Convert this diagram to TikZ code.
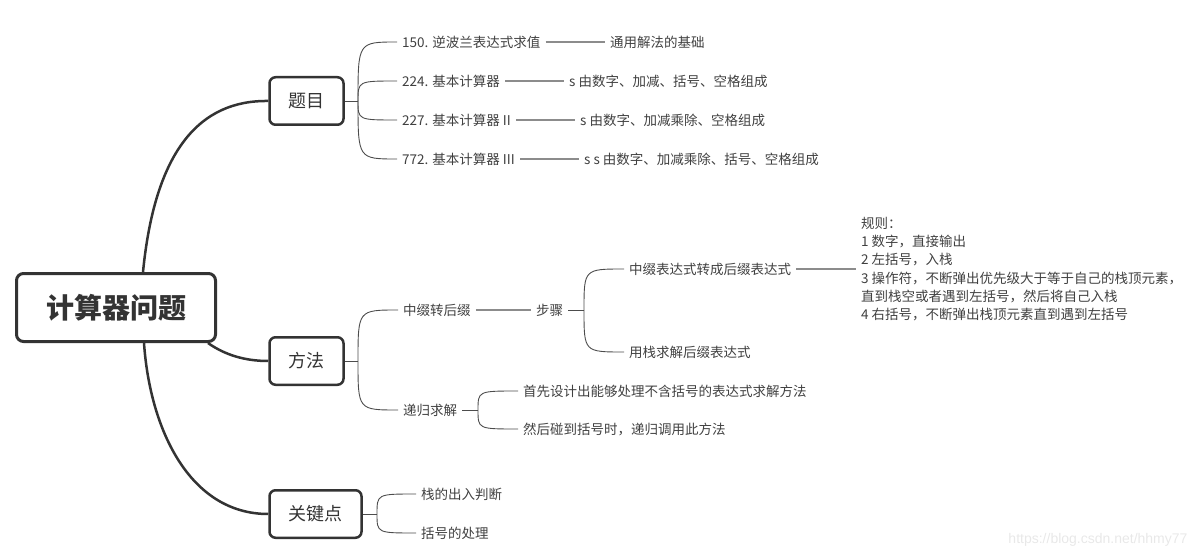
\documentclass[tikz,border=0pt]{standalone}
\usepackage{fontspec}
\setmainfont{Noto Sans CJK SC}
\newfontfamily\markfont{Liberation Sans}
\usetikzlibrary{positioning}
\definecolor{ink}{HTML}{333333}
\definecolor{leafink}{HTML}{404040}
\tikzset{
  rootbox/.style={draw=ink,line width=3pt,rounded corners=7pt,minimum width=199pt,minimum height=68pt,text=ink,font=\fontsize{28}{30}\selectfont\bfseries},
  topicbox/.style={draw=ink,line width=2.5pt,rounded corners=6pt,minimum height=47.5pt,inner xsep=19pt,text=ink,font=\fontsize{18}{20}\selectfont},
  leaf/.style={anchor=west,inner xsep=5pt,inner ysep=2pt,text=leafink,font=\fontsize{13.5}{18.2}\selectfont},
  trunk/.style={draw=ink,line width=2.5pt},
  twig/.style={draw=black!70,line width=0.9pt},
  bar/.style={draw=black!45,line width=1.5pt},
}
\begin{document}
\begin{tikzpicture}[x=1pt,y=-1pt]
\useasboundingbox (0,0) rectangle (1200,559);
\node[rootbox] (root) at (116,307.5) {计算器问题};
\node[topicbox] (ti) at (306.5,101) {题目};
\node[topicbox] (me) at (306.5,361) {方法};
\node[topicbox] (ke) at (315.5,514) {关键点};
\draw[trunk] ([xshift=27pt]root.north) .. controls (155,150) and (200,100) .. (ti.west);
\draw[trunk] ([xshift=-9pt]root.south east) .. controls (225,355) and (245,361) .. (me.west);
\draw[trunk] ([xshift=28pt]root.south) .. controls (150,430) and (190,514) .. (ke.west);

% 题目
\coordinate (bt) at (358,101);
\node[leaf] (t150) at (397,42) {150. 逆波兰表达式求值};
\node[leaf] (d150) at (605,42) {通用解法的基础};
\node[leaf] (t224) at (397,81) {224. 基本计算器};
\node[leaf] (d224) at (564,81) {s 由数字、加减、括号、空格组成};
\node[leaf] (t227) at (397,120) {227. 基本计算器 II};
\node[leaf] (d227) at (575,120) {s 由数字、加减乘除、空格组成};
\node[leaf] (t772) at (397,159) {772. 基本计算器 III};
\node[leaf] (d772) at (579,159) {s s 由数字、加减乘除、括号、空格组成};
\draw[twig] (ti.east) -- (bt);
\foreach \c in {t150,t224,t227,t772}
  \draw[twig] (bt) .. controls (bt |- \c.west) .. (\c.west);
\foreach \c/\d in {t150/d150,t224/d224,t227/d227,t772/d772}
  \draw[bar] (\c.east) -- (\d.west);

% 方法
\coordinate (bm) at (358,361);
\node[leaf] (mid) at (398,310) {中缀转后缀};
\node[leaf] (steps) at (531,310) {步骤};
\coordinate (bs) at (584,310);
\node[leaf] (conv) at (624,269) {中缀表达式转成后缀表达式};
\node[leaf] (post) at (624,352) {用栈求解后缀表达式};
\node[leaf,align=left] (rules) at (856,269) {规则：\\1 数字，直接输出\\2 左括号，入栈\\3 操作符，不断弹出优先级大于等于自己的栈顶元素，\\直到栈空或者遇到左括号，然后将自己入栈\\4 右括号，不断弹出栈顶元素直到遇到左括号};
\node[leaf] (rec) at (398,410) {递归求解};
\coordinate (br) at (478,410);
\node[leaf] (rec1) at (518,391) {首先设计出能够处理不含括号的表达式求解方法};
\node[leaf] (rec2) at (518,429) {然后碰到括号时，递归调用此方法};
\draw[twig] (me.east) -- (bm);
\foreach \c in {mid,rec}
  \draw[twig] (bm) .. controls (bm |- \c.west) .. (\c.west);
\draw[bar] (mid.east) -- (steps.west);
\draw[twig] (steps.east) -- (bs);
\foreach \c in {conv,post}
  \draw[twig] (bs) .. controls (bs |- \c.west) .. (\c.west);
\draw[bar] (conv.east) -- (rules.west);
\draw[twig] (rec.east) -- (br);
\foreach \c in {rec1,rec2}
  \draw[twig] (br) .. controls (br |- \c.west) .. (\c.west);

% 关键点
\coordinate (bk) at (377,514);
\node[leaf] (k1) at (416,494) {栈的出入判断};
\node[leaf] (k2) at (416,533) {括号的处理};
\draw[twig] (ke.east) -- (bk);
\foreach \c in {k1,k2}
  \draw[twig] (bk) .. controls (bk |- \c.west) .. (\c.west);

\node[anchor=east,text=black!9,font=\markfont\fontsize{14}{16}\selectfont] (mark) at (1191,540) {https://blog.csdn.net/hhmy77};
\end{tikzpicture}
\end{document}
